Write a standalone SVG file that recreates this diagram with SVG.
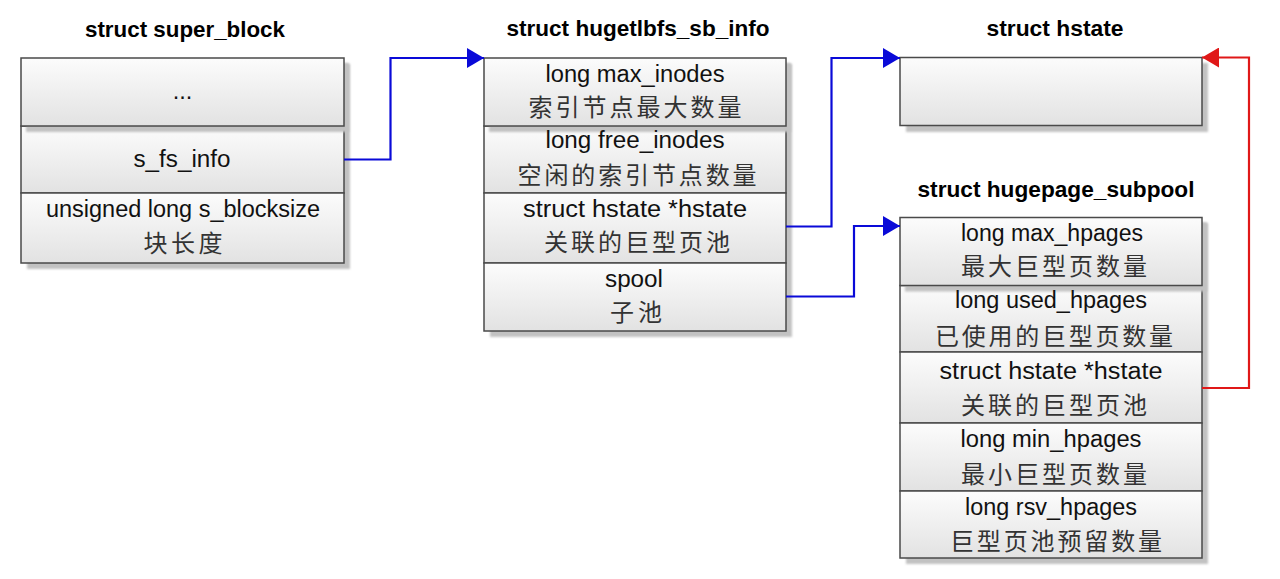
<svg xmlns="http://www.w3.org/2000/svg" width="1280" height="579" viewBox="0 0 1280 579">
<style>
.cell{fill:url(#g);stroke:#4a4a4a;stroke-width:1.5}
.sh{fill:#c2c2c2;filter:url(#blur)}
.t{font-family:"Liberation Sans","Noto Sans CJK SC",sans-serif;font-size:23.5px;fill:#111;text-anchor:middle}
.c{font-family:"Noto Sans CJK SC",sans-serif;font-size:24px;fill:#333;text-anchor:middle}
.h{font-family:"Liberation Sans",sans-serif;font-size:22.5px;font-weight:bold;fill:#000;text-anchor:middle}
.blue{fill:none;stroke:#0a0ad8;stroke-width:2.2}
.red{fill:none;stroke:#e01818;stroke-width:2.2}
</style>
<defs>
<linearGradient id="g" x1="0" y1="0" x2="0" y2="1">
<stop offset="0" stop-color="#fcfcfc"/>
<stop offset="1" stop-color="#e2e2e2"/>
</linearGradient>
<filter id="blur" x="-5%" y="-5%" width="110%" height="110%"><feGaussianBlur stdDeviation="1"/></filter>
<marker id="ab" markerUnits="userSpaceOnUse" markerWidth="18" markerHeight="20" refX="17" refY="10" orient="auto"><path d="M0,0 L17,10 L0,20 Z" fill="#0a0ad8"/></marker>
<marker id="ar" markerUnits="userSpaceOnUse" markerWidth="18" markerHeight="20" refX="17" refY="10" orient="auto"><path d="M0,0 L17,10 L0,20 Z" fill="#e01818"/></marker>
</defs>
<rect width="1280" height="579" fill="#fff"/>

<g id="super_block">
<text class="h" x="185" y="37" textLength="200" lengthAdjust="spacingAndGlyphs">struct super_block</text>
<rect class="sh" x="27" y="64" width="323" height="205"/>
<rect class="cell" x="21" y="126" width="323" height="67"/>
<rect class="cell" x="21" y="193" width="323" height="70"/>
<rect class="sh" x="26" y="63" width="323" height="69"/>
<rect class="cell" x="21" y="58" width="323" height="68"/>
<text class="t" x="182.5" y="99">...</text>
<text class="t" x="182" y="167" textLength="97" lengthAdjust="spacingAndGlyphs">s_fs_info</text>
<text class="t" x="183" y="217" textLength="274" lengthAdjust="spacingAndGlyphs">unsigned long s_blocksize</text>
<text class="c" x="183" y="252" textLength="79" lengthAdjust="spacing">块长度</text>
</g>

<g id="hugetlbfs_sb_info">
<text class="h" x="638" y="36" textLength="263" lengthAdjust="spacingAndGlyphs">struct hugetlbfs_sb_info</text>
<rect class="sh" x="490" y="64" width="302" height="273"/>
<rect class="cell" x="484" y="126" width="302" height="67"/>
<rect class="cell" x="484" y="193" width="302" height="70"/>
<rect class="cell" x="484" y="263" width="302" height="68"/>
<rect class="sh" x="489" y="63" width="302" height="69"/>
<rect class="cell" x="484" y="58" width="302" height="68"/>
<text class="t" x="635" y="82" textLength="179" lengthAdjust="spacingAndGlyphs">long max_inodes</text>
<text class="c" x="635" y="116" textLength="213" lengthAdjust="spacing">索引节点最大数量</text>
<text class="t" x="635" y="148" textLength="179" lengthAdjust="spacingAndGlyphs">long free_inodes</text>
<text class="c" x="637" y="184" textLength="239" lengthAdjust="spacing">空闲的索引节点数量</text>
<text class="t" x="635" y="217" textLength="224" lengthAdjust="spacingAndGlyphs">struct hstate *hstate</text>
<text class="c" x="637" y="251" textLength="186" lengthAdjust="spacing">关联的巨型页池</text>
<text class="t" x="634" y="287" textLength="58" lengthAdjust="spacingAndGlyphs">spool</text>
<text class="c" x="636" y="321" textLength="52" lengthAdjust="spacing">子池</text>
</g>

<g id="hstate">
<text class="h" x="1055" y="36" textLength="137" lengthAdjust="spacingAndGlyphs">struct hstate</text>
<rect class="sh" x="906" y="63" width="302" height="69"/>
<rect class="cell" x="900" y="57.5" width="302" height="68"/>
</g>

<g id="hugepage_subpool">
<text class="h" x="1056" y="197" textLength="277" lengthAdjust="spacingAndGlyphs">struct hugepage_subpool</text>
<rect class="sh" x="906" y="223" width="302" height="341"/>
<rect class="cell" x="900" y="285.5" width="302" height="66.5"/>
<rect class="cell" x="900" y="352" width="302" height="71"/>
<rect class="cell" x="900" y="423" width="302" height="68"/>
<rect class="cell" x="900" y="491" width="302" height="67"/>
<rect class="sh" x="905" y="222.5" width="302" height="69"/>
<rect class="cell" x="900" y="217.5" width="302" height="68"/>
<text class="t" x="1052" y="241" textLength="182" lengthAdjust="spacingAndGlyphs">long max_hpages</text>
<text class="c" x="1054" y="275" textLength="186" lengthAdjust="spacing">最大巨型页数量</text>
<text class="t" x="1051" y="308" textLength="192" lengthAdjust="spacingAndGlyphs">long used_hpages</text>
<text class="c" x="1054" y="345" textLength="238" lengthAdjust="spacing">已使用的巨型页数量</text>
<text class="t" x="1051" y="379" textLength="223" lengthAdjust="spacingAndGlyphs">struct hstate *hstate</text>
<text class="c" x="1054" y="414" textLength="186" lengthAdjust="spacing">关联的巨型页池</text>
<text class="t" x="1051" y="447" textLength="181" lengthAdjust="spacingAndGlyphs">long min_hpages</text>
<text class="c" x="1054" y="483" textLength="186" lengthAdjust="spacing">最小巨型页数量</text>
<text class="t" x="1051" y="515" textLength="172" lengthAdjust="spacingAndGlyphs">long rsv_hpages</text>
<text class="c" x="1056" y="550" textLength="212" lengthAdjust="spacing">巨型页池预留数量</text>
</g>

<g id="connectors">
<path class="blue" d="M344,159.5 H390.5 V58 H484" marker-end="url(#ab)"/>
<path class="blue" d="M786,226.5 H831.5 V58 H900" marker-end="url(#ab)"/>
<path class="blue" d="M786,296.5 H854 V226 H900" marker-end="url(#ab)"/>
<path class="red" d="M1202,388 H1249 V57.5 H1202" marker-end="url(#ar)"/>
</g>
</svg>
